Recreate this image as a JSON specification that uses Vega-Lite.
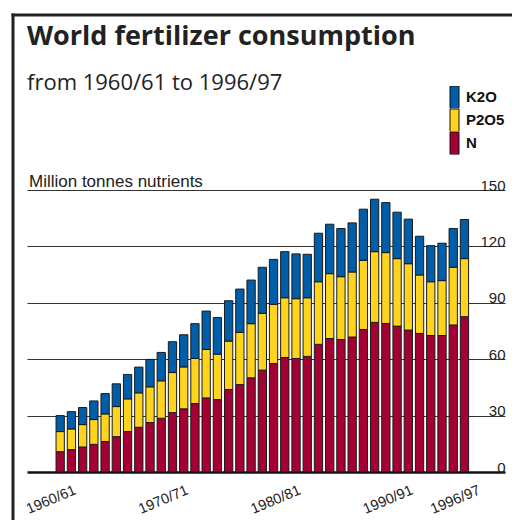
{
  "$schema": "https://vega.github.io/schema/vega-lite/v6.json",
  "width": 478,
  "height": 282,
  "autosize": {"type": "none"},
  "padding": {"left": 27, "top": 190, "right": 7, "bottom": 48},
  "background": "white",
  "title": {
    "text": "World fertilizer consumption",
    "subtitle": "from 1960/61 to 1996/97",
    "anchor": "start",
    "frame": "group",
    "orient": "top",
    "offset": -80,
    "font": "Open Sans",
    "fontSize": 27,
    "fontWeight": "bold",
    "color": "#222222",
    "subtitleFont": "Open Sans",
    "subtitleFontSize": 22,
    "subtitleColor": "#222222",
    "subtitlePadding": 22
  },
  "data": {
    "values": [
      {"period": "1960/61", "year": 1960, "N": 10.8, "P2O5": 10.7, "K2O": 8.5},
      {"period": "1961/62", "year": 1961, "N": 11.9, "P2O5": 11.0, "K2O": 9.2},
      {"period": "1962/63", "year": 1962, "N": 13.3, "P2O5": 11.9, "K2O": 9.1},
      {"period": "1963/64", "year": 1963, "N": 14.7, "P2O5": 13.2, "K2O": 9.9},
      {"period": "1964/65", "year": 1964, "N": 16.2, "P2O5": 14.7, "K2O": 10.8},
      {"period": "1965/66", "year": 1965, "N": 18.8, "P2O5": 16.0, "K2O": 12.1},
      {"period": "1966/67", "year": 1966, "N": 21.5, "P2O5": 17.4, "K2O": 13.0},
      {"period": "1967/68", "year": 1967, "N": 23.8, "P2O5": 18.3, "K2O": 13.7},
      {"period": "1968/69", "year": 1968, "N": 26.3, "P2O5": 19.0, "K2O": 14.6},
      {"period": "1969/70", "year": 1969, "N": 28.6, "P2O5": 19.9, "K2O": 15.1},
      {"period": "1970/71", "year": 1970, "N": 31.6, "P2O5": 21.3, "K2O": 16.4},
      {"period": "1971/72", "year": 1971, "N": 33.6, "P2O5": 22.3, "K2O": 17.1},
      {"period": "1972/73", "year": 1972, "N": 36.4, "P2O5": 24.0, "K2O": 18.5},
      {"period": "1973/74", "year": 1973, "N": 39.4, "P2O5": 25.8, "K2O": 20.4},
      {"period": "1974/75", "year": 1974, "N": 38.5, "P2O5": 24.2, "K2O": 19.5},
      {"period": "1975/76", "year": 1975, "N": 43.9, "P2O5": 25.7, "K2O": 21.5},
      {"period": "1976/77", "year": 1976, "N": 46.5, "P2O5": 27.7, "K2O": 23.1},
      {"period": "1977/78", "year": 1977, "N": 50.1, "P2O5": 28.8, "K2O": 23.2},
      {"period": "1978/79", "year": 1978, "N": 54.2, "P2O5": 30.2, "K2O": 24.5},
      {"period": "1979/80", "year": 1979, "N": 57.7, "P2O5": 31.5, "K2O": 23.9},
      {"period": "1980/81", "year": 1980, "N": 60.9, "P2O5": 31.8, "K2O": 24.5},
      {"period": "1981/82", "year": 1981, "N": 60.4, "P2O5": 31.8, "K2O": 23.8},
      {"period": "1982/83", "year": 1982, "N": 61.5, "P2O5": 31.2, "K2O": 23.1},
      {"period": "1983/84", "year": 1983, "N": 67.9, "P2O5": 33.3, "K2O": 25.8},
      {"period": "1984/85", "year": 1984, "N": 71.0, "P2O5": 34.5, "K2O": 26.3},
      {"period": "1985/86", "year": 1985, "N": 70.5, "P2O5": 33.4, "K2O": 25.6},
      {"period": "1986/87", "year": 1986, "N": 71.8, "P2O5": 34.6, "K2O": 26.1},
      {"period": "1987/88", "year": 1987, "N": 75.8, "P2O5": 36.8, "K2O": 27.2},
      {"period": "1988/89", "year": 1988, "N": 79.6, "P2O5": 37.6, "K2O": 27.9},
      {"period": "1989/90", "year": 1989, "N": 79.0, "P2O5": 37.7, "K2O": 26.6},
      {"period": "1990/91", "year": 1990, "N": 77.6, "P2O5": 35.9, "K2O": 24.7},
      {"period": "1991/92", "year": 1991, "N": 75.5, "P2O5": 35.3, "K2O": 23.7},
      {"period": "1992/93", "year": 1992, "N": 73.7, "P2O5": 31.1, "K2O": 20.6},
      {"period": "1993/94", "year": 1993, "N": 72.6, "P2O5": 28.6, "K2O": 19.2},
      {"period": "1994/95", "year": 1994, "N": 72.6, "P2O5": 29.2, "K2O": 19.9},
      {"period": "1995/96", "year": 1995, "N": 78.2, "P2O5": 30.7, "K2O": 20.6},
      {"period": "1996/97", "year": 1996, "N": 82.6, "P2O5": 30.9, "K2O": 20.8}
    ]
  },
  "transform": [
    {"fold": ["N", "P2O5", "K2O"], "as": ["nutrient", "value"]},
    {"calculate": "indexof(['N','P2O5','K2O'], datum.nutrient)", "as": "stackOrder"}
  ],
  "layer": [
    {
      "mark": {"type": "bar", "width": 8.3, "stroke": "#1a1a1a", "strokeWidth": 1},
      "encoding": {
        "x": {
          "field": "year",
          "type": "quantitative",
          "scale": {"domain": [1957.49, 1999.165], "nice": false, "zero": false},
          "axis": {
            "orient": "bottom",
            "values": [1960, 1970, 1980, 1990, 1996],
            "labelExpr": "datum.value + '/' + substring('' + (datum.value + 1), 2, 4)",
            "labelAngle": -23,
            "labelAlign": "right",
            "labelBaseline": "top",
            "labelPadding": 11,
            "labelOffset": 12,
            "labelFont": "Liberation Sans",
            "labelFontSize": 14.5,
            "labelColor": "#222222",
            "labelOverlap": false,
            "labelBound": false,
            "labelFlush": false,
            "ticks": false,
            "domain": false,
            "grid": false,
            "title": null
          }
        },
        "y": {
          "field": "value",
          "type": "quantitative",
          "stack": "zero",
          "scale": {"domain": [0, 150], "nice": false},
          "axis": {
            "orient": "right",
            "values": [0, 30, 60, 90, 120, 150],
            "grid": true,
            "gridColor": {"condition": {"test": "datum.value === 0", "value": "#111111"}, "value": "#333333"},
            "gridWidth": {"condition": {"test": "datum.value === 0", "value": 2.5}, "value": 1},
            "ticks": false,
            "domain": false,
            "labelAlign": "right",
            "labelBaseline": "alphabetic",
            "labelPadding": 0,
            "labelDy": -3.5,
            "labelFont": "Liberation Sans",
            "labelFontSize": 15,
            "labelColor": "#222222",
            "labelOverlap": false,
            "labelBound": false,
            "labelFlush": false,
            "title": "Million tonnes nutrients",
            "titleAngle": 0,
            "titleX": -476.5,
            "titleY": -3.5,
            "titleAlign": "left",
            "titleBaseline": "alphabetic",
            "titleFont": "Liberation Sans",
            "titleFontSize": 17,
            "titleFontWeight": "normal",
            "titleColor": "#222222"
          }
        },
        "color": {
          "field": "nutrient",
          "type": "nominal",
          "scale": {"domain": ["K2O", "P2O5", "N"], "range": ["#005ea8", "#ffd41f", "#a50034"]},
          "legend": {
            "orient": "none",
            "legendX": 419,
            "legendY": -104,
            "title": null,
            "padding": 0,
            "symbolType": "M-0.5625,-1.406H0.5625V1.406H-0.5625Z",
            "symbolSize": 256,
            "symbolStrokeColor": "#111111",
            "symbolStrokeWidth": 1,
            "symbolOpacity": 1,
            "clipHeight": 22.5,
            "rowPadding": 0,
            "labelOffset": 3,
            "labelFont": "Liberation Sans",
            "labelFontSize": 15,
            "labelFontWeight": "bold",
            "labelColor": "#111111"
          }
        },
        "order": {"field": "stackOrder", "type": "quantitative", "sort": "ascending"}
      }
    },
    {
      "mark": {"type": "point", "opacity": 0},
      "encoding": {
        "x": {
          "field": "value",
          "type": "quantitative",
          "scale": {"range": [-16, 490]},
          "axis": {"orient": "top", "offset": 175.5, "labels": false, "ticks": false, "grid": false, "title": null, "domain": true, "domainColor": "#222222", "domainWidth": 3}
        },
        "y": {
          "field": "value",
          "type": "quantitative",
          "scale": {"range": [332, -177]},
          "axis": {"orient": "left", "offset": 14.5, "labels": false, "ticks": false, "grid": false, "title": null, "domain": true, "domainColor": "#222222", "domainWidth": 3}
        }
      }
    }
  ],
  "resolve": {"scale": {"x": "independent", "y": "independent"}},
  "config": {
    "view": {"stroke": null},
    "font": "Liberation Sans"
  }
}
